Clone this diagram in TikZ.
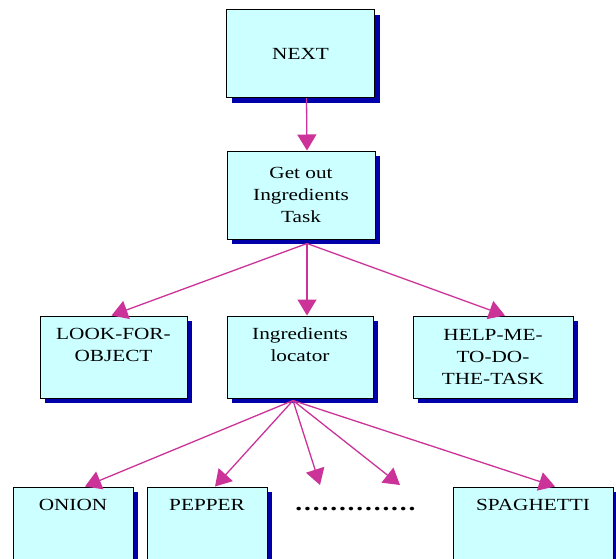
\documentclass[tikz,border=0pt]{standalone}
\usepackage{fontspec}
\setmainfont{Liberation Serif}[FakeStretch=1.25]
\usetikzlibrary{arrows.meta,shadows}
\definecolor{boxfill}{RGB}{204,255,255}
\definecolor{shadowblue}{RGB}{0,0,170}
\definecolor{linkpink}{RGB}{204,51,153}

\begin{document}
\begin{tikzpicture}[x=1pt, y=-1pt,
    font=\fontsize{17}{22}\selectfont,
    box/.style={draw, line width=1pt, fill=boxfill, minimum width=148pt, minimum height=88pt, align=center,
        drop shadow={shadow xshift=5pt, shadow yshift=-5pt, fill=shadowblue, opacity=1}},
    toptext/.style={align=center, anchor=north, yshift=-9pt},
    link/.style={-{Triangle[length=16pt, width=19pt]}, line width=1.3pt, linkpink}
]
    \clip (0,0) rectangle (616,558);
    \fill[white] (0,0) rectangle (616,558);

    % top of the tree
    \node[box] (next) at (300.5,53.5) {NEXT};
    \node[box] (gettask) at (301,195) {Get out\\Ingredients\\Task};

    % second row
    \node[box, minimum width=147pt, minimum height=82pt,
        label={[toptext]north:LOOK-FOR-\\OBJECT}] (look) at (113.5,357) {};
    \node[box, minimum width=146pt, minimum height=82pt,
        label={[toptext]north:Ingredients\\locator}] (locator) at (300,357) {};
    \node[box, minimum width=160pt, minimum height=82pt] (help) at (493,357) {HELP-ME-\\TO-DO-\\THE-TASK};

    % ingredients
    \node[box, minimum width=120pt, minimum height=86pt,
        label={[toptext]north:ONION}] (onion) at (73,530) {};
    \node[box, minimum width=120pt, minimum height=86pt,
        label={[toptext]north:PEPPER}] (pepper) at (207,530) {};
    \node[box, minimum width=160pt, minimum height=86pt,
        label={[toptext]north:SPAGHETTI}] (spag) at (533,530) {};
    \node[font=\fontsize{22}{22}\selectfont\bfseries] (more) at (355.5,509) {\makebox[122pt]{\xleaders\hbox to 8.6pt{\hss.\hss}\hfill}};

    % connectors
    \coordinate (split) at ([xshift=6pt, yshift=-4pt]gettask.south);
    \coordinate (fan) at ([xshift=-7pt, yshift=-2pt]locator.south);
    \coordinate (dotsL) at (320,485);
    \coordinate (dotsR) at (400,485);

    \draw[link] ([xshift=6pt]next.south) -- ([xshift=6pt]gettask.north);
    \draw[link] (split) -- ([xshift=-2pt]look.north);
    \draw[link] (split) -- ([xshift=7pt]locator.north);
    \draw[link] (split) -- ([xshift=12pt]help.north);

    \draw[link] (fan) -- ([xshift=12pt]onion.north);
    \draw[link] (fan) -- ([xshift=8pt]pepper.north);
    \draw[link] (fan) -- (dotsL);
    \draw[link] (fan) -- (dotsR);
    \draw[link] (fan) -- ([xshift=22pt]spag.north);
\end{tikzpicture}
\end{document}
